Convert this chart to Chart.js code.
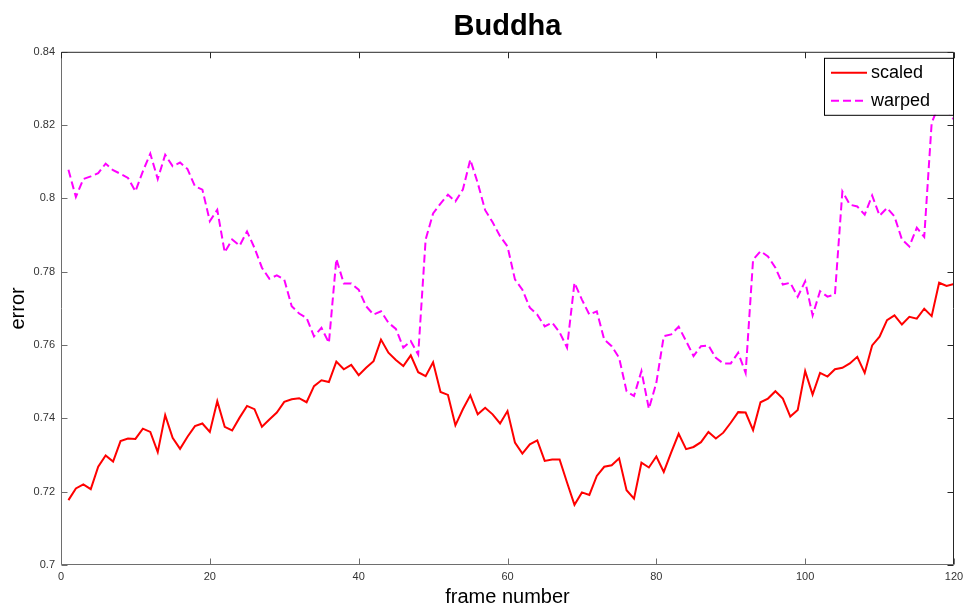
<!DOCTYPE html>
<html>
<head>
<meta charset="utf-8">
<script src="https://cdn.jsdelivr.net/npm/chart.js@4/dist/chart.umd.min.js"></script>
<style>
  html, body { margin: 0; padding: 0; background: #fff; }
  #wrap { width: 965px; height: 607px; }
</style>
</head>
<body>
<div id="wrap"><canvas id="c"></canvas></div>
<script>
const scaled = [
  0.7177, 0.7209, 0.7220, 0.7207, 0.7268, 0.7299, 0.7282, 0.7338, 0.7345, 0.7344,
  0.7372, 0.7363, 0.7308, 0.7409, 0.7347, 0.7317, 0.7350, 0.7379, 0.7386, 0.7363,
  0.7447, 0.7377, 0.7367, 0.7402, 0.7434, 0.7425, 0.7377, 0.7397, 0.7416, 0.7445,
  0.7452, 0.7455, 0.7444, 0.7488, 0.7504, 0.7499, 0.7555, 0.7534, 0.7546, 0.7518,
  0.7538, 0.7556, 0.7615, 0.7579, 0.7559, 0.7543, 0.7572, 0.7526, 0.7515, 0.7553,
  0.7472, 0.7464, 0.7381, 0.7425, 0.7463, 0.7411, 0.7429, 0.7411, 0.7386, 0.7420,
  0.7334, 0.7304, 0.7329, 0.7340, 0.7284, 0.7288, 0.7288, 0.7225, 0.7164, 0.7198,
  0.7191, 0.7243, 0.7268, 0.7272, 0.7291, 0.7204, 0.7181, 0.7279, 0.7266, 0.7296,
  0.7254, 0.7307, 0.7358, 0.7316, 0.7322, 0.7335, 0.7363, 0.7345, 0.7361, 0.7388,
  0.7417, 0.7416, 0.7368, 0.7444, 0.7454, 0.7474, 0.7454, 0.7405, 0.7423, 0.7529,
  0.7465, 0.7524, 0.7514, 0.7534, 0.7538, 0.7550, 0.7568, 0.7524, 0.7599, 0.7623,
  0.7668, 0.7681, 0.7656, 0.7677, 0.7672, 0.7699, 0.7679, 0.7770, 0.7761, 0.7767
]

const warped = [
  0.8078, 0.8004, 0.8053, 0.8060, 0.8069, 0.8095, 0.8077, 0.8067, 0.8056, 0.8019,
  0.8074, 0.8122, 0.8053, 0.8119, 0.8088, 0.8098, 0.8080, 0.8033, 0.8024, 0.7938,
  0.7969, 0.7853, 0.7888, 0.7871, 0.7910, 0.7865, 0.7811, 0.7781, 0.7790, 0.7779,
  0.7706, 0.7686, 0.7674, 0.7624, 0.7647, 0.7606, 0.7835, 0.7768, 0.7768, 0.7751,
  0.7706, 0.7683, 0.7692, 0.7661, 0.7644, 0.7593, 0.7611, 0.7574, 0.7888, 0.7959,
  0.7986, 0.8010, 0.7992, 0.8024, 0.8106, 0.8042, 0.7968, 0.7935, 0.7897, 0.7869,
  0.7779, 0.7751, 0.7702, 0.7683, 0.7651, 0.7661, 0.7635, 0.7593, 0.7770, 0.7724,
  0.7683, 0.7692, 0.7615, 0.7597, 0.7565, 0.7474, 0.7461, 0.7529, 0.7426, 0.7497,
  0.7624, 0.7629, 0.7650, 0.7611, 0.7570, 0.7597, 0.7599, 0.7565, 0.7550, 0.7550,
  0.7579, 0.7524, 0.7833, 0.7856, 0.7842, 0.7811, 0.7765, 0.7770, 0.7732, 0.7774,
  0.7681, 0.7747, 0.7732, 0.7738, 0.8019, 0.7983, 0.7978, 0.7956, 0.8008, 0.7953,
  0.7974, 0.7951, 0.7888, 0.7869, 0.7920, 0.7895, 0.8206, 0.8256, 0.8242, 0.8215
]

const seriesNames = ['scaled', 'warped']
const xTicks = [0, 20, 40, 60, 80, 100, 120]
const yTicks = [0.7, 0.72, 0.74, 0.76, 0.78, 0.8, 0.82, 0.84]

// frame numbers start at 1
const toPoints = (arr) => arr.map((v, i) => ({ x: i + 1, y: v }))

const FONT = "'Liberation Sans', Arial, Helvetica, sans-serif"
const AXIS_LB = '#6e6e6e' // left / bottom look lighter in the original
const AXIS_TR = '#262626'

// matlab style box with inward ticks on all four sides + legend in the corner
const matlabBox = {
  id: 'matlabBox',
  afterDatasetsDraw(chart) {
    const { ctx, chartArea: a, scales } = chart
    const L = a.left + 0.5, R = a.right - 0.5, T = a.top + 0.5, B = a.bottom - 0.5
    const len = 6
    ctx.save()
    ctx.lineWidth = 1

    ctx.strokeStyle = AXIS_LB
    ctx.beginPath()
    ctx.moveTo(L, T); ctx.lineTo(L, B); ctx.lineTo(R, B)
    xTicks.forEach((t) => {
      const px = Math.round(scales.x.getPixelForValue(t)) + 0.5
      ctx.moveTo(px, B); ctx.lineTo(px, B - len)
    })
    yTicks.forEach((t) => {
      const py = Math.round(scales.y.getPixelForValue(t)) + 0.5
      ctx.moveTo(L, py); ctx.lineTo(L + len, py)
    })
    ctx.stroke()

    ctx.strokeStyle = AXIS_TR
    ctx.beginPath()
    ctx.moveTo(L, T); ctx.lineTo(R, T); ctx.lineTo(R, B)
    xTicks.forEach((t) => {
      const px = Math.round(scales.x.getPixelForValue(t)) + 0.5
      ctx.moveTo(px, T); ctx.lineTo(px, T + len)
    })
    yTicks.forEach((t) => {
      const py = Math.round(scales.y.getPixelForValue(t)) + 0.5
      ctx.moveTo(R, py); ctx.lineTo(R - len, py)
    })
    ctx.stroke()

    // legend
    const bx = a.right - 130, by = a.top + 6, bw = 129, bh = 57
    ctx.fillStyle = '#fff'
    ctx.fillRect(bx, by, bw, bh)
    ctx.strokeStyle = '#000'
    ctx.strokeRect(bx + 0.5, by + 0.5, bw, bh)
    ctx.font = '18px ' + FONT
    ctx.textBaseline = 'middle'
    chart.data.datasets.forEach((ds, i) => {
      const y = by + 15 + i * 28
      ctx.strokeStyle = ds.borderColor
      ctx.lineWidth = 2
      ctx.setLineDash(ds.borderDash || [])
      ctx.beginPath()
      ctx.moveTo(bx + 7, y); ctx.lineTo(bx + 43, y)
      ctx.stroke()
      ctx.setLineDash([])
      ctx.fillStyle = '#000'
      ctx.fillText(ds.label, bx + 47, y)
    })
    ctx.restore()
  }
}

new Chart(document.getElementById('c'), {
  type: 'line',
  plugins: [matlabBox],
  data: {
    datasets: [
      {
        label: seriesNames[0],
        data: toPoints(scaled),
        borderColor: '#ff0000',
        borderWidth: 2,
        pointRadius: 0,
        tension: 0,
      },
      {
        label: seriesNames[1],
        data: toPoints(warped),
        borderColor: '#ff00ff',
        borderWidth: 2,
        borderDash: [8, 4],
        pointRadius: 0,
        tension: 0,
      },
    ],
  },
  options: {
    responsive: true,
    maintainAspectRatio: false,
    animation: false,
    layout: { padding: { left: 0, right: 11, top: 0, bottom: 0 } },
    plugins: {
      legend: { display: false },
      tooltip: { enabled: false },
      title: {
        display: true,
        fullSize: false,
        text: 'Buddha',
        color: '#000',
        font: { family: FONT, size: 29, weight: 'bold', lineHeight: 1.2 },
        padding: { top: 10, bottom: 7 },
      },
    },
    scales: {
      x: {
        type: 'linear',
        min: 0,
        max: 120,
        afterBuildTicks: (s) => { s.ticks = xTicks.map((v) => ({ value: v })) },
        afterFit: (s) => { s.height = 42; s.paddingLeft = 0; s.paddingRight = 0 },
        grid: { display: false, drawTicks: false },
        border: { display: false },
        ticks: { color: '#333', padding: 5, maxRotation: 0, font: { family: FONT, size: 11 } },
        title: {
          display: true,
          text: 'frame number',
          color: '#000',
          font: { family: FONT, size: 20, lineHeight: 1.0 },
          padding: { top: 0, bottom: 0 },
        },
      },
      y: {
        type: 'linear',
        min: 0.7,
        max: 0.84,
        afterBuildTicks: (s) => { s.ticks = yTicks.map((v) => ({ value: v })) },
        afterFit: (s) => { s.width = 61; s.paddingTop = 0; s.paddingBottom = 0 },
        grid: { display: false, drawTicks: false },
        border: { display: false },
        ticks: {
          color: '#333',
          padding: 6,
          font: { family: FONT, size: 11 },
          callback: (v) => String(+v.toFixed(2)),
        },
        title: {
          display: true,
          text: 'error',
          color: '#000',
          font: { family: FONT, size: 20, lineHeight: 1.2 },
          padding: { top: 6, bottom: 0 },
        },
      },
    },
  },
})
</script>
</body>
</html>
